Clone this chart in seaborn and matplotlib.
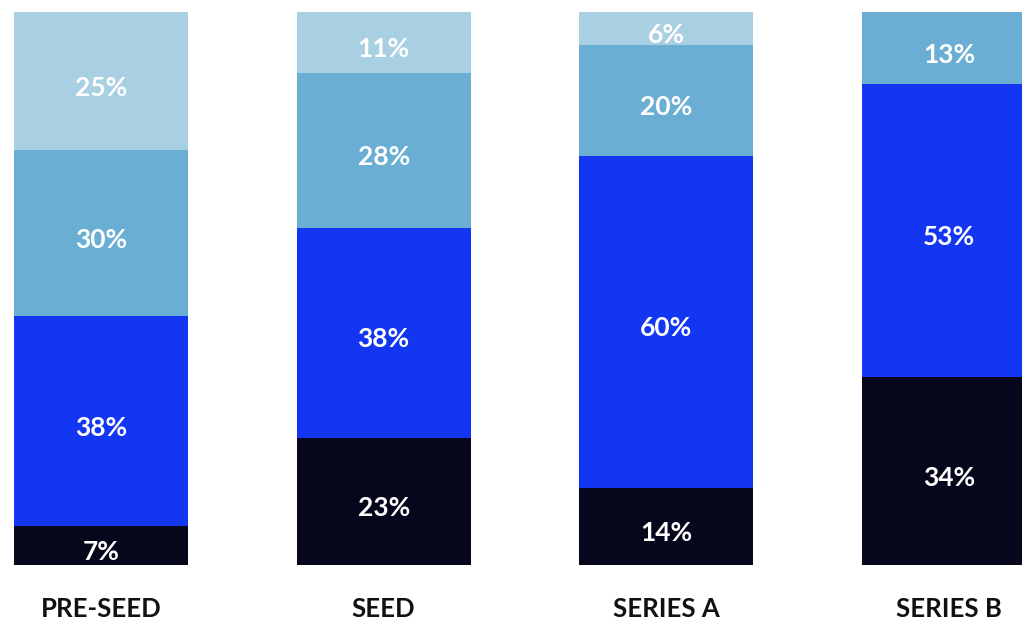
import matplotlib
matplotlib.use("Agg")
import matplotlib.pyplot as plt
import seaborn as sns
import numpy as np
import pandas as pd

categories = ["PRE-SEED", "SEED", "SERIES A", "SERIES B"]
layer_names = ["dark", "blue", "medium", "light"]
dark = [7, 23, 14, 34]
blue = [38, 38, 60, 53]
medium = [30, 28, 20, 13]
light = [25, 11, 6, 0]
colors = ["#06071c", "#1236f2", "#6aafd3", "#a8d0e2"]

sns.set_theme(style="white")
plt.rcParams['font.family'] = ['Lato', 'DejaVu Sans']

layers = [dark, blue, medium, light]
cum = np.cumsum(np.array(layers), axis=0)

fig = plt.figure(figsize=(10.22, 6.22), dpi=100)
ax = fig.add_axes([0, 57 / 622, 1, 553 / 622])

# draw cumulative totals from the top layer down so each overpaints
for i in range(len(layers) - 1, -1, -1):
    df = pd.DataFrame({"cat": categories, "val": cum[i]})
    sns.barplot(data=df, x="cat", y="val", color=colors[i], width=0.615,
                saturation=1, linewidth=0, ax=ax, order=categories)

for i, layer in enumerate(layers):
    bottoms = cum[i] - np.array(layer)
    for j, v in enumerate(layer):
        if v > 0:
            ax.text(j, bottoms[j] + v / 2 - 1.2, f"{v}%", ha="center", va="center",
                    color="white", fontsize=19, fontweight="bold")

for j, c in enumerate(categories):
    ax.text(j, -7.9, c, ha="center", va="center", color="#111111",
            fontsize=18.5, fontweight="bold", clip_on=False)

ax.set_xlim(-0.357, 3.258)
ax.set_ylim(0, 100)
ax.axis("off")

fig.savefig("out.png", dpi=100)
